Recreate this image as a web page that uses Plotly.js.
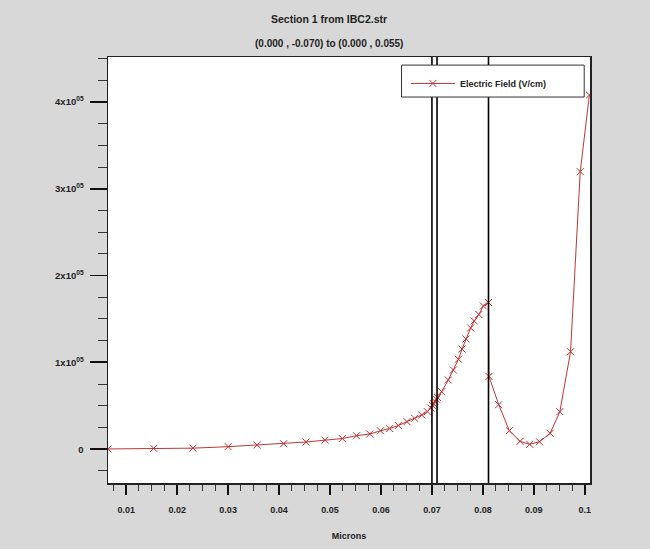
<!DOCTYPE html>
<html>
<head>
<meta charset="utf-8">
<script src="https://cdn.plot.ly/plotly-3.0.1.min.js"></script>
<style>
html,body{margin:0;padding:0;background:#d8d8d8;}
#chart{width:650px;height:549px;}
</style>
</head>
<body>
<div id="chart"></div>
<script>
// Data
var microns = [0.0064, 0.0154, 0.0231, 0.0300, 0.0357, 0.0409, 0.0453, 0.0490, 0.0524, 0.0552,
  0.0578, 0.0599, 0.0617, 0.0634, 0.0651, 0.0666, 0.0680, 0.0691, 0.0698, 0.0701,
  0.0703, 0.0706, 0.0709, 0.0711, 0.0719, 0.0732, 0.0742, 0.0752, 0.0759, 0.0767,
  0.0776, 0.0783, 0.0792, 0.0801, 0.0811, 0.0812, 0.0831, 0.0852, 0.0873, 0.0892,
  0.0911, 0.0932, 0.0951, 0.0972, 0.0991, 0.1009];
var electricField = [300, 1000, 1200, 2900, 4800, 6300, 8300, 10400, 12300, 15500,
  17500, 21200, 23800, 27300, 31700, 35600, 39400, 43200, 47500, 50500,
  52500, 55000, 57500, 59500, 66200, 79700, 91200, 103600, 115400, 127000,
  139600, 147700, 155200, 165000, 169000, 83800, 51300, 21300, 9100, 5600,
  8600, 18300, 43200, 112300, 319700, 408000];
var boundaries = [0.0700, 0.0710, 0.0811];
var xTickVals = [0.01, 0.02, 0.03, 0.04, 0.05, 0.06, 0.07, 0.08, 0.09, 0.1];
var xTickText = ["0.01", "0.02", "0.03", "0.04", "0.05", "0.06", "0.07", "0.08", "0.09", "0.1"];
var yTickVals = [0, 100000, 200000, 300000, 400000];
var yTickText = ["0", "1x10<sup>05</sup>", "2x10<sup>05</sup>", "3x10<sup>05</sup>", "4x10<sup>05</sup>"];
var seriesName = "Electric Field (V/cm)";
var titleText = "Section 1 from IBC2.str";
var subtitleText = "(0.000 , -0.070) to (0.000 , 0.055)";

var FONT = "Liberation Sans, Arial, sans-serif";

var trace = {
  x: microns, y: electricField, type: "scatter", mode: "lines+markers",
  name: seriesName,
  line: {color: "#b8383a", width: 1},
  marker: {symbol: "x-thin-open", size: 7, color: "#cc2a2a", line: {color: "#cc2a2a", width: 1}}
};

var shapes = boundaries.map(function (b) {
  return {type: "line", xref: "x", yref: "paper", x0: b, x1: b, y0: 0, y1: 1,
    line: {color: "#000", width: 1.6}};
});
// legend box
shapes.push({type: "rect", xref: "paper", yref: "paper",
  x0: 0.609, x1: 0.988, y0: 0.906, y1: 0.981,
  line: {color: "#333", width: 1}, fillcolor: "#fff", layer: "above"});

var layout = {
  width: 650, height: 549,
  paper_bgcolor: "#d8d8d8", plot_bgcolor: "#ffffff",
  margin: {l: 108, r: 60, t: 57, b: 66},
  font: {family: FONT, size: 9, color: "#222"},
  showlegend: true,
  legend: {x: 0.618, y: 0.972, xanchor: "left", yanchor: "top", bgcolor: "rgba(0,0,0,0)",
    borderwidth: 0, font: {family: FONT, size: 9, color: "#222", weight: "bold"},
    itemwidth: 44, tracegroupgap: 0},
  xaxis: {
    range: [0.006424, 0.10102], showgrid: false, zeroline: false,
    showline: true, linecolor: "#222", linewidth: 1.5, mirror: true,
    tickmode: "array", tickvals: xTickVals, ticktext: xTickText,
    ticks: "outside", ticklen: 10, tickwidth: 1.8, tickcolor: "#111",
    ticklabelstandoff: 8,
    tickfont: {family: FONT, size: 9, color: "#222", weight: "bold"},
    minor: {tick0: 0, dtick: 0.0025, ticks: "outside", ticklen: 6, tickwidth: 1, tickcolor: "#333", showgrid: false},
    title: {text: "Microns", font: {family: FONT, size: 9, color: "#222", weight: "bold"}, standoff: 18}
  },
  yaxis: {
    range: [-38940, 451800], showgrid: false, zeroline: false,
    showline: true, linecolor: "#222", linewidth: 1.5, mirror: true,
    tickmode: "array", tickvals: yTickVals, ticktext: yTickText,
    ticks: "outside", ticklen: 17, tickwidth: 1.8, tickcolor: "#111",
    ticklabelstandoff: 4,
    tickfont: {family: FONT, size: 9.5, color: "#222", weight: "bold"},
    minor: {tick0: 0, dtick: 25000, ticks: "outside", ticklen: 9, tickwidth: 1, tickcolor: "#333", showgrid: false}
  },
  shapes: shapes,
  annotations: [
    {text: titleText, xref: "paper", yref: "paper", x: 0.459, y: 1, yshift: 38, showarrow: false,
      xanchor: "center", yanchor: "middle", font: {family: FONT, size: 10.5, color: "#222", weight: "bold"}},
    {text: subtitleText, xref: "paper", yref: "paper", x: 0.459, y: 1, yshift: 14, showarrow: false,
      xanchor: "center", yanchor: "middle", font: {family: FONT, size: 10, color: "#222", weight: "bold"}}
  ]
};

Plotly.newPlot("chart", [trace], layout, {displayModeBar: false, staticPlot: true});
</script>
</body>
</html>
